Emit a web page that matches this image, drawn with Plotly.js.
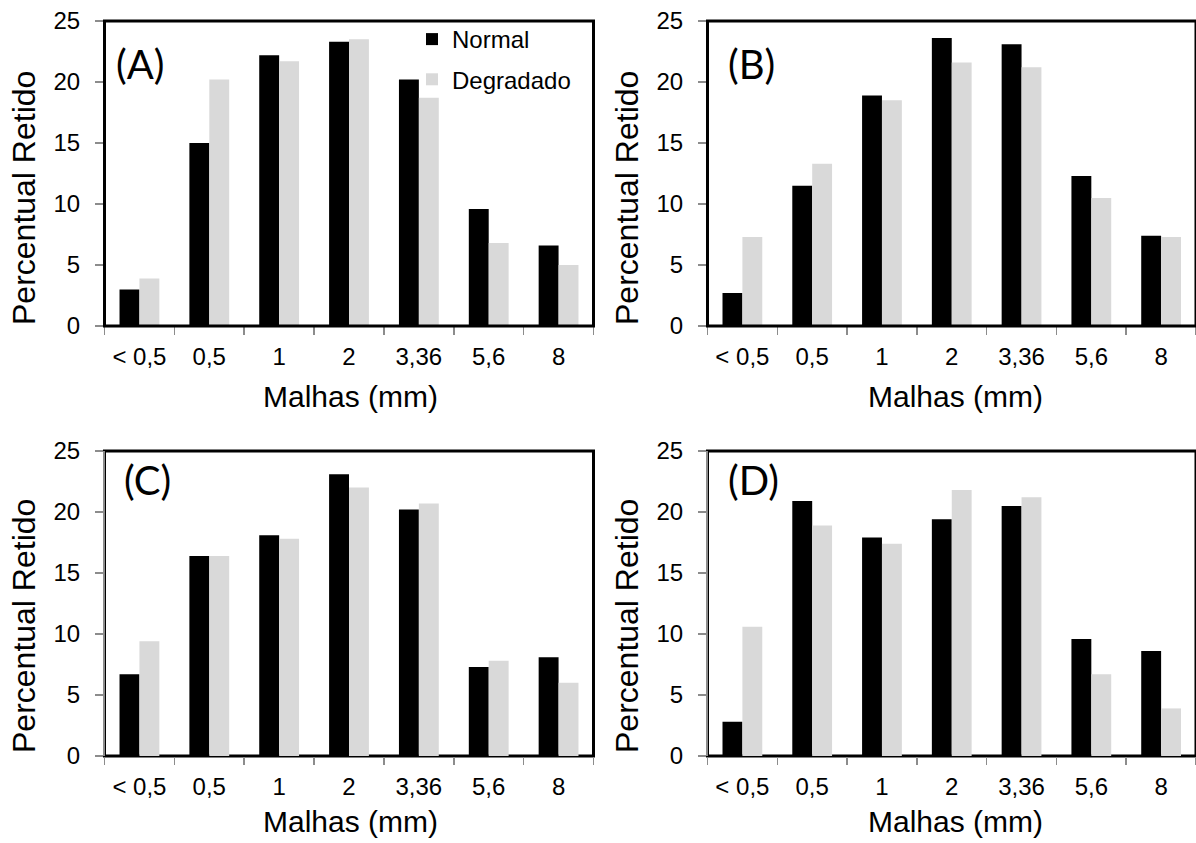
<!DOCTYPE html>
<html>
<head>
<meta charset="utf-8">
<script src="https://cdn.plot.ly/plotly-3.0.1.min.js"></script>
<style>html,body{margin:0;padding:0;background:#fff;}#chart{width:1196px;height:843px;}</style>
</head>
<body>
<div id="chart"></div>
<script>
const categories = ["< 0,5", "0,5", "1", "2", "3,36", "5,6", "8"];
const seriesNames = ["Normal", "Degradado"];
const panelLabels = ["(A)", "(B)", "(C)", "(D)"];

const normalA = [3.0, 15.0, 22.2, 23.3, 20.2, 9.6, 6.6];
const degradadoA = [3.9, 20.2, 21.7, 23.5, 18.7, 6.8, 5.0];
const normalB = [2.7, 11.5, 18.9, 23.6, 23.1, 12.3, 7.4];
const degradadoB = [7.3, 13.3, 18.5, 21.6, 21.2, 10.5, 7.3];
const normalC = [6.7, 16.4, 18.1, 23.1, 20.2, 7.3, 8.1];
const degradadoC = [9.4, 16.4, 17.8, 22.0, 20.7, 7.8, 6.0];
const normalD = [2.8, 20.9, 17.9, 19.4, 20.5, 9.6, 8.6];
const degradadoD = [10.6, 18.9, 17.4, 21.8, 21.2, 6.7, 3.9];

const xTitle = "Malhas (mm)";
const yTitle = "Percentual Retido";

const W = 1196, H = 843;
const colors = ["#000000", "#d9d9d9"];
const panels = [
  {n: normalA, d: degradadoA, x: [104.5, 593.5], y: [21, 326], lab: [114, 64], yt: [24, 198], xt: [350, 396]},
  {n: normalB, d: degradadoB, x: [707.5, 1196.5], y: [21, 326], lab: [726, 64], yt: [627, 198], xt: [955, 396]},
  {n: normalC, d: degradadoC, x: [104.5, 593.5], y: [451, 756], lab: [122, 480], yt: [24, 626], xt: [350, 821]},
  {n: normalD, d: degradadoD, x: [707.5, 1196.5], y: [451, 756], lab: [726, 480], yt: [627, 626], xt: [955, 821]}
];

const FONT = "Liberation Sans, Arial, sans-serif";
const traces = [];
const layout = {
  width: W, height: H,
  margin: {l: 0, r: 0, t: 0, b: 0},
  paper_bgcolor: "#fff", plot_bgcolor: "rgba(0,0,0,0)",
  barmode: "group", bargap: 0.43, bargroupgap: 0,
  showlegend: true,
  legend: {
    x: 412 / W, y: 1 - 17 / H, xanchor: "left", yanchor: "top",
    bgcolor: "rgba(0,0,0,0)", tracegroupgap: 6,
    font: {family: FONT, size: 24, color: "#000"}, itemwidth: 30
  },
  shapes: [], annotations: []
};

panels.forEach((p, i) => {
  const k = i === 0 ? "" : String(i + 1);
  const xa = "x" + k, ya = "y" + k;
  [p.n, p.d].forEach((vals, j) => {
    traces.push({
      type: "bar", x: categories, y: vals, name: seriesNames[j],
      xaxis: xa, yaxis: ya, marker: {color: colors[j], line: {width: 0}},
      showlegend: i === 0, legendgroup: seriesNames[j], hoverinfo: "skip"
    });
  });
  const xd = [Math.max(0, p.x[0] / W), Math.min(1, p.x[1] / W)];
  const yd = [1 - p.y[1] / H, 1 - p.y[0] / H];
  const below = i >= 2;
  layout["xaxis" + k] = {
    domain: xd, anchor: ya, type: "category", range: [-0.5, 6.5],
    showline: false, showgrid: false, zeroline: false,
    ticks: "outside", tickson: "boundaries", ticklen: 8, tickcolor: "#8c8c8c", tickwidth: 1.5,
    tickfont: {family: FONT, size: 24, color: "#000"}, ticklabelstandoff: 14,
    fixedrange: true
  };
  layout["yaxis" + k] = {
    domain: yd, anchor: xa, range: [0, 25], dtick: 5,
    showline: true, linecolor: "#8c8c8c", linewidth: 1.5,
    showgrid: false, zeroline: false,
    ticks: "outside", ticklen: 8, tickcolor: "#8c8c8c", tickwidth: 1.5,
    tickfont: {family: FONT, size: 24, color: "#000"}, ticklabelstandoff: 10,
    fixedrange: true
  };
  layout.shapes.push({
    type: "rect", xref: xa + " domain", yref: ya + " domain",
    x0: 0, x1: 1, y0: 0, y1: 1,
    line: {color: "#000", width: 3}, fillcolor: "rgba(0,0,0,0)",
    layer: below ? "below" : "above"
  });
  layout.annotations.push({
    text: panelLabels[i], xref: "paper", yref: "paper",
    x: p.lab[0] / W, y: 1 - p.lab[1] / H, xanchor: "left", yanchor: "middle", showarrow: false,
    font: {family: "Lato, Carlito, sans-serif", size: 40, color: "#000"}
  });
  layout.annotations.push({
    text: yTitle, xref: "paper", yref: "paper", textangle: -90,
    x: p.yt[0] / W, y: 1 - p.yt[1] / H, xanchor: "center", yanchor: "middle", showarrow: false,
    font: {family: FONT, size: 32, color: "#000"}
  });
  layout.annotations.push({
    text: xTitle, xref: "paper", yref: "paper",
    x: p.xt[0] / W, y: 1 - p.xt[1] / H, xanchor: "center", yanchor: "middle", showarrow: false,
    font: {family: FONT, size: 30, color: "#000"}
  });
});

Plotly.newPlot("chart", traces, layout, {staticPlot: true, displayModeBar: false});
</script>
</body>
</html>
